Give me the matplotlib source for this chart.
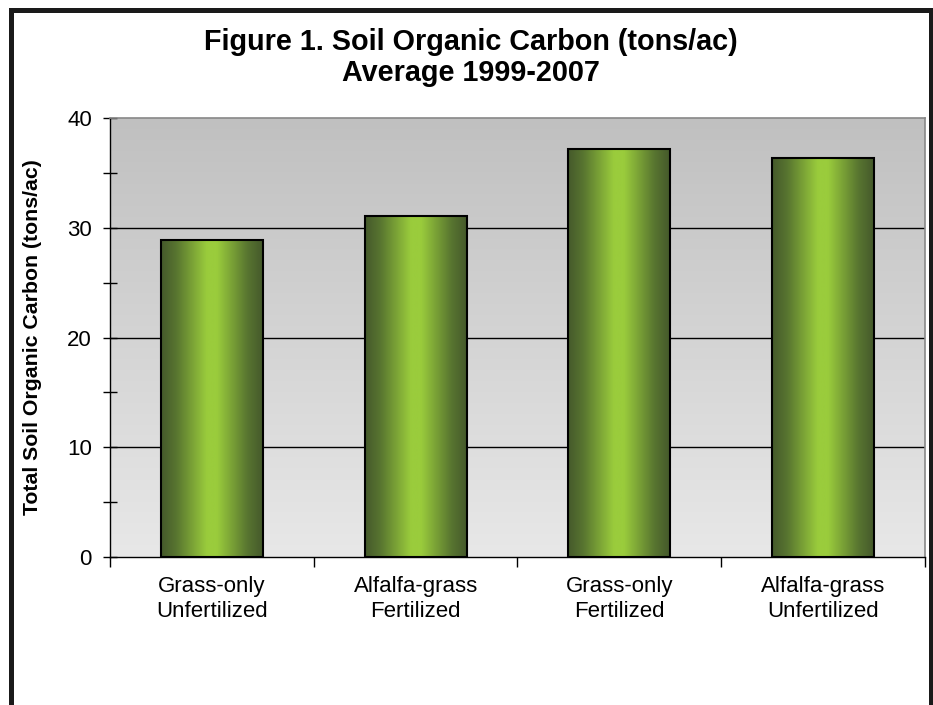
import matplotlib
matplotlib.use('Agg')
import matplotlib.pyplot as plt
import numpy as np
from matplotlib.colors import LinearSegmentedColormap
from matplotlib.patches import Rectangle

# 土壤有机碳柱状图 (tons/ac), 1999-2007 平均值
categories = ['Grass-only\nUnfertilized', 'Alfalfa-grass\nFertilized',
              'Grass-only\nFertilized', 'Alfalfa-grass\nUnfertilized']
carbon_values = [28.9, 31.1, 37.2, 36.4]
y_ticks = [0, 10, 20, 30, 40]
title_text = 'Figure 1. Soil Organic Carbon (tons/ac)\nAverage 1999-2007'
ylabel_text = 'Total Soil Organic Carbon (tons/ac)'

plt.rcParams['font.family'] = ['Liberation Sans', 'DejaVu Sans']


def draw_chart():
    fig = plt.figure(figsize=(9.33, 7.05), dpi=100)
    ax = fig.add_axes([0.1179, 0.2099, 0.8735, 0.6227])

    n = len(categories)
    x = np.arange(n)

    # 背景渐变: 上面深灰, 下面浅灰
    bg = np.linspace(0, 1, 256).reshape(-1, 1)
    bg_cmap = LinearSegmentedColormap.from_list('bg', ['#e8e8e8', '#c0c0c0'])
    ax.imshow(bg, cmap=bg_cmap, extent=[0, 1, 0, 1], origin='lower',
              transform=ax.transAxes, aspect='auto', zorder=0)

    # 网格线
    for t in y_ticks[1:-1]:
        ax.axhline(t, color='black', lw=1.0, zorder=1)

    # 柱子本身只画边框, 颜色用渐变图片填进去
    bars = ax.bar(x, carbon_values, width=0.5, facecolor='none',
                  edgecolor='black', linewidth=1.5, zorder=3)
    bar_cmap = LinearSegmentedColormap.from_list(
        'bar', [(0.0, '#45592b'), (0.15, '#587530'), (0.45, '#9acc3c'),
                (0.55, '#9acc3c'), (0.85, '#587530'), (1.0, '#45592b')])
    grad = np.linspace(0, 1, 256).reshape(1, -1)
    for rect in bars:
        x0 = rect.get_x()
        w = rect.get_width()
        h = rect.get_height()
        im = ax.imshow(grad, cmap=bar_cmap, extent=[x0, x0 + w, 0, h],
                       aspect='auto', zorder=2)
        im.set_clip_path(rect)

    ax.set_xlim(-0.5, n - 0.5)
    ax.set_ylim(0, 40)

    # x轴: 刻度在类别之间, 标签在中间
    ax.set_xticks(np.arange(-0.5, n, 1.0))
    ax.set_xticklabels([])
    ax.set_xticks(x, minor=True)
    ax.set_xticklabels(categories, minor=True, fontsize=16)
    ax.tick_params(axis='x', which='major', direction='out', length=7, width=1)
    ax.tick_params(axis='x', which='minor', length=0, pad=14)

    # y轴
    ax.set_yticks(y_ticks)
    ax.set_yticks(np.arange(5, 40, 10), minor=True)
    ax.tick_params(axis='y', which='both', direction='inout', length=10,
                   width=1, labelsize=16, pad=8)

    for side in ['left', 'bottom']:
        ax.spines[side].set_color('black')
        ax.spines[side].set_linewidth(1)
    for side in ['top', 'right']:
        ax.spines[side].set_color('#888888')
        ax.spines[side].set_linewidth(1.2)

    ax.set_ylabel(ylabel_text, fontsize=15.3, fontweight='bold')
    ax.yaxis.set_label_coords(-0.083, 0.5)

    fig.text(0.505, 0.877, title_text, ha='center', va='bottom',
             fontsize=20.7, fontweight='bold', linespacing=1.12)

    # 外框
    fig.patches.append(Rectangle((10.5 / 933, -0.05), (931 - 10.5) / 933, 1.05 - 9.5 / 705,
                                 transform=fig.transFigure, fill=False,
                                 edgecolor='#1a1a1a', linewidth=3.6))

    fig.savefig('out.png', dpi=100)


if __name__ == '__main__':
    draw_chart()
